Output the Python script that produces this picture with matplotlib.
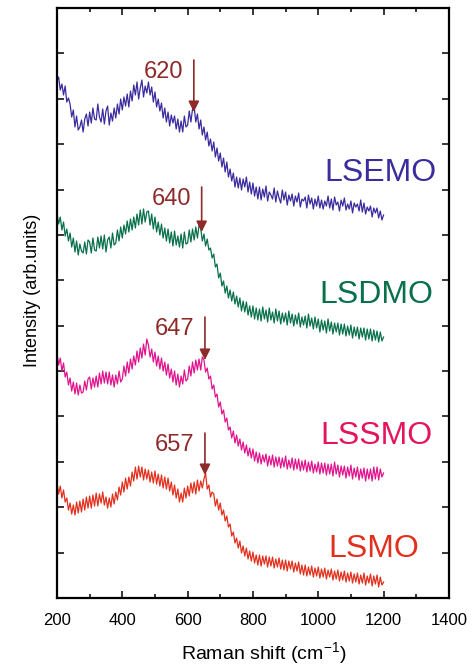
import matplotlib.pyplot as plt
import numpy as np
from matplotlib.ticker import MultipleLocator, NullFormatter

plt.rcParams['font.family'] = ['Liberation Sans', 'DejaVu Sans']
plt.rcParams['mathtext.fontset'] = 'custom'
plt.rcParams['mathtext.rm'] = 'Liberation Sans'

# Raman shift grid (cm-1), 5 cm-1 step
shift = np.arange(200, 1201, 5)

# stacked intensities (arb. units)
lsemo = [517, 521, 508, 514, 503, 512, 496, 500, 494, 481, 488, 471, 482, 468, 471, 478,
         466, 479, 484, 472, 486, 475, 490, 479, 478, 494, 481, 476, 489, 474, 487, 492,
         473, 485, 477, 490, 480, 494, 484, 499, 488, 501, 492, 504, 491, 507, 497, 513,
         503, 516, 499, 510, 518, 501, 512, 505, 516, 503, 511, 496, 506, 491, 499, 487,
         495, 480, 490, 476, 486, 472, 483, 475, 482, 469, 479, 466, 477, 466, 482, 471,
         473, 487, 476, 489, 491, 476, 484, 469, 478, 463, 471, 458, 466, 452, 459, 447,
         456, 441, 450, 437, 445, 431, 440, 426, 436, 421, 429, 417, 425, 411, 421, 410,
         420, 408, 419, 411, 421, 406, 416, 404, 415, 402, 411, 399, 411, 398, 409, 401,
         412, 397, 406, 403, 399, 410, 396, 407, 400, 395, 408, 398, 406, 393, 403, 397,
         404, 392, 402, 396, 405, 391, 399, 397, 401, 390, 403, 394, 400, 389, 399, 392,
         402, 390, 398, 389, 397, 392, 402, 390, 399, 388, 401, 393, 396, 387, 398, 392,
         400, 388, 394, 389, 397, 385, 395, 391, 394, 387, 398, 386, 395, 384, 391, 387,
         392, 381, 390, 385, 390, 380, 387, 378, 383]

lsdmo = [385, 374, 381, 368, 376, 362, 369, 357, 365, 351, 360, 346, 357, 343, 354, 347,
         345, 356, 344, 358, 356, 345, 360, 348, 347, 361, 350, 362, 349, 363, 346, 358,
         361, 350, 365, 353, 355, 368, 357, 371, 360, 373, 364, 377, 366, 379, 368, 381,
         370, 384, 373, 388, 374, 389, 376, 386, 387, 373, 384, 369, 381, 366, 376, 363,
         374, 360, 370, 357, 369, 355, 366, 352, 367, 353, 362, 351, 364, 350, 366, 354,
         355, 368, 356, 369, 358, 371, 360, 373, 370, 357, 364, 352, 359, 348, 350, 340,
         344, 331, 334, 320, 325, 312, 317, 305, 312, 300, 308, 297, 306, 294, 302, 291,
         300, 287, 297, 286, 296, 283, 292, 281, 292, 279, 290, 278, 289, 277, 291, 279,
         288, 276, 290, 278, 286, 275, 289, 277, 287, 274, 285, 276, 285, 273, 287, 275,
         284, 272, 283, 274, 285, 271, 281, 273, 282, 270, 284, 272, 280, 269, 281, 270,
         279, 266, 278, 268, 277, 265, 279, 267, 276, 264, 275, 266, 275, 263, 274, 264,
         274, 262, 272, 263, 273, 260, 271, 262, 271, 259, 270, 261, 270, 258, 269, 259,
         269, 257, 268, 258, 267, 256, 266, 257, 261]

lssmo = [245, 233, 240, 227, 235, 221, 226, 213, 220, 207, 216, 204, 215, 203, 213, 205,
         206, 217, 208, 219, 221, 209, 220, 211, 222, 211, 225, 214, 227, 215, 226, 214,
         226, 213, 223, 211, 223, 214, 227, 216, 219, 232, 222, 236, 225, 239, 229, 242,
         233, 247, 236, 250, 240, 254, 243, 259, 253, 241, 249, 236, 246, 232, 242, 229,
         240, 227, 236, 223, 234, 220, 229, 216, 227, 213, 224, 211, 222, 214, 228, 217,
         219, 232, 222, 236, 225, 238, 228, 239, 228, 241, 238, 226, 230, 219, 222, 209,
         213, 201, 204, 191, 196, 184, 188, 176, 180, 168, 171, 160, 167, 155, 163, 152,
         159, 148, 156, 145, 153, 142, 150, 140, 149, 137, 146, 135, 145, 134, 143, 136,
         144, 132, 142, 133, 143, 131, 141, 132, 141, 130, 140, 131, 142, 129, 138, 130,
         140, 128, 139, 129, 139, 127, 137, 128, 138, 126, 136, 127, 137, 125, 134, 126,
         136, 124, 135, 125, 135, 123, 134, 124, 134, 122, 136, 124, 133, 121, 132, 123,
         132, 120, 131, 122, 133, 119, 130, 121, 131, 118, 129, 120, 130, 117, 129, 119,
         129, 117, 131, 119, 131, 118, 129, 121, 125]

lsmo = [115, 104, 112, 100, 108, 96, 100, 88, 95, 84, 93, 83, 96, 85, 97, 86,
        99, 88, 101, 90, 102, 90, 103, 92, 105, 92, 104, 95, 106, 93, 101, 90,
        100, 91, 104, 94, 106, 98, 111, 103, 116, 106, 120, 109, 121, 112, 126, 117,
        131, 119, 132, 121, 131, 118, 129, 119, 128, 116, 126, 115, 127, 114, 124, 112,
        123, 110, 121, 109, 120, 107, 116, 103, 113, 100, 109, 96, 105, 96, 110, 100,
        112, 102, 115, 105, 116, 104, 118, 107, 117, 110, 119, 125, 109, 113, 101, 106,
        104, 92, 99, 88, 95, 83, 88, 77, 82, 71, 74, 62, 66, 55, 60, 50,
        57, 45, 52, 42, 50, 39, 47, 37, 46, 35, 43, 33, 43, 32, 42, 34,
        42, 31, 41, 32, 41, 30, 39, 31, 40, 29, 38, 28, 38, 27, 37, 29,
        37, 26, 35, 27, 36, 24, 33, 23, 33, 22, 31, 23, 32, 21, 30, 22,
        31, 20, 29, 21, 30, 19, 28, 21, 29, 18, 27, 19, 28, 17, 26, 18,
        27, 16, 25, 17, 26, 15, 24, 16, 25, 14, 23, 15, 25, 13, 22, 15,
        24, 12, 22, 14, 23, 11, 21, 13, 16]

names = ['LSEMO', 'LSDMO', 'LSSMO', 'LSMO']
line_colors = ['#3b2c9e', '#08704a', '#e0158e', '#e2301e']
text_colors = ['#3b2c9e', '#08704a', '#e5155c', '#e2301e']
label_pos = [(1362, 425), (1353, 303), (1350, 162), (1310, 49)]

# mode positions (cm-1) and arrow heights
modes = [620, 640, 647, 657]
arrow_x = [619, 643, 653, 653]
arrow_top = [538, 411, 281, 165]
arrow_tip = [486, 366, 238, 123]
arrow_color = '#8e2a2a'

fig = plt.figure(figsize=(4.75, 6.67), dpi=100)
ax = fig.add_axes([0.12, 0.1034, 0.825, 0.8846])

for y, c in zip([lsemo, lsdmo, lssmo, lsmo], line_colors):
    ax.plot(shift, y, color=c, lw=0.9)

for n, (lx, ly), c in zip(names, label_pos, text_colors):
    ax.text(lx, ly, n, color=c, fontsize=23, ha='right', va='center')

for m, ax_x, top, tip in zip(modes, arrow_x, arrow_top, arrow_tip):
    ax.annotate('', xy=(ax_x, tip), xytext=(ax_x, top),
                arrowprops=dict(arrowstyle='-|>', color=arrow_color, lw=1.2,
                                mutation_scale=16, shrinkA=0, shrinkB=0))
    ax.text(ax_x - 32, top - 12, str(m), color=arrow_color, fontsize=17,
            ha='right', va='center')

ax.set_xlim(200, 1400)
ax.set_ylim(0, 590)
ax.xaxis.set_major_locator(MultipleLocator(200))
ax.xaxis.set_minor_locator(MultipleLocator(100))
ax.yaxis.set_major_locator(MultipleLocator(590 / 13))
ax.yaxis.set_major_formatter(NullFormatter())
ax.tick_params(which='both', direction='in', top=True, right=True, width=1.1)
ax.tick_params(axis='x', labelsize=12, pad=11)
ax.tick_params(which='major', length=5)
ax.tick_params(which='minor', length=3)
for s in ax.spines.values():
    s.set_linewidth(1.6)

ax.set_xlabel('Raman shift (cm$^{-1}$)', fontsize=14)
ax.set_ylabel('Intensity (arb.units)', fontsize=13)
ax.xaxis.set_label_coords(0.528, -0.072)
ax.yaxis.set_label_coords(-0.041, 0.522)

fig.savefig('out.png', dpi=100)
